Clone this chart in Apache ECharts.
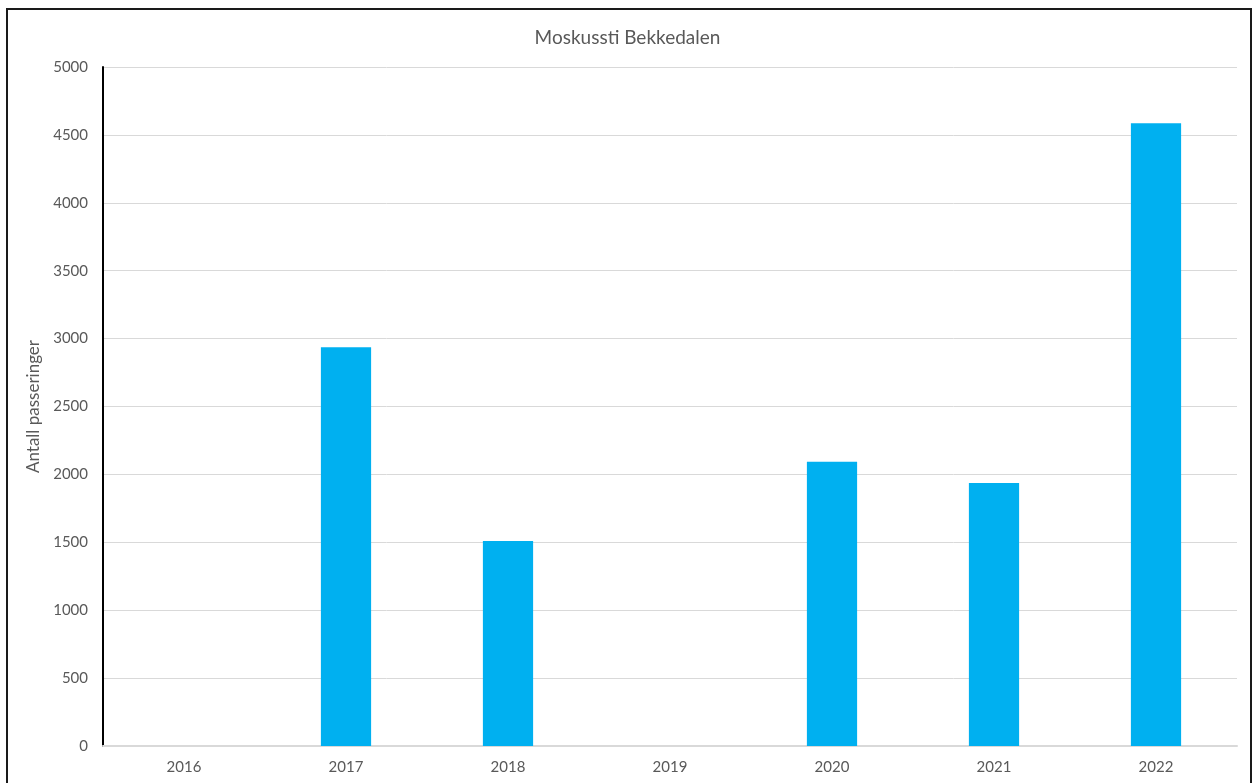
<!DOCTYPE html>
<html>
<head>
<meta charset="utf-8">
<script src="https://cdn.jsdelivr.net/npm/echarts@6/dist/echarts.min.js"></script>
<style>
  html, body { margin: 0; padding: 0; background: #fff; }
  #frame { position: absolute; left: 6px; top: 8px; width: 1246px; height: 800px; border: 2px solid #1a1a1a; box-sizing: border-box; }
  #chart { position: absolute; left: 0; top: 0; width: 1255px; height: 783px; }
</style>
</head>
<body>
<div id="frame"></div>
<div id="chart"></div>
<script>
// år og antall passeringer
const years = ['2016', '2017', '2018', '2019', '2020', '2021', '2022']
const passeringer = [null, 2936, 1510, null, 2094, 1937, 4585]
const yTicks = { min: 0, max: 5000, interval: 500 }

const chart = echarts.init(document.getElementById('chart'))
const textColor = '#595959'
const font = 'Lato, "Open Sans", sans-serif'

chart.setOption({
  animation: false,
  title: {
    text: 'Moskussti Bekkedalen',
    left: 'center',
    top: 23,
    textStyle: { color: textColor, fontSize: 19, fontWeight: 'normal', fontFamily: font }
  },
  grid: { left: 103, right: 18, top: 67, bottom: 37 },
  xAxis: {
    type: 'category',
    data: years,
    axisLine: { lineStyle: { color: '#d9d9d9', width: 2 } },
    axisTick: { show: false },
    axisLabel: { color: textColor, fontSize: 15, fontFamily: font, margin: 14 }
  },
  yAxis: {
    type: 'value',
    min: yTicks.min,
    max: yTicks.max,
    interval: yTicks.interval,
    name: 'Antall passeringer',
    nameLocation: 'middle',
    nameGap: 54,
    nameTextStyle: { color: textColor, fontSize: 17, fontFamily: font },
    axisLine: { show: true, lineStyle: { color: '#000', width: 2 } },
    axisTick: { show: false },
    axisLabel: { color: textColor, fontSize: 15, fontFamily: font, margin: 15, formatter: v => String(v) },
    splitLine: { lineStyle: { color: '#d9d9d9', width: 1 } }
  },
  series: [
    {
      type: 'bar',
      data: passeringer,
      barWidth: '31%',
      itemStyle: { color: '#00b0f0' }
    }
  ]
})
</script>
</body>
</html>
